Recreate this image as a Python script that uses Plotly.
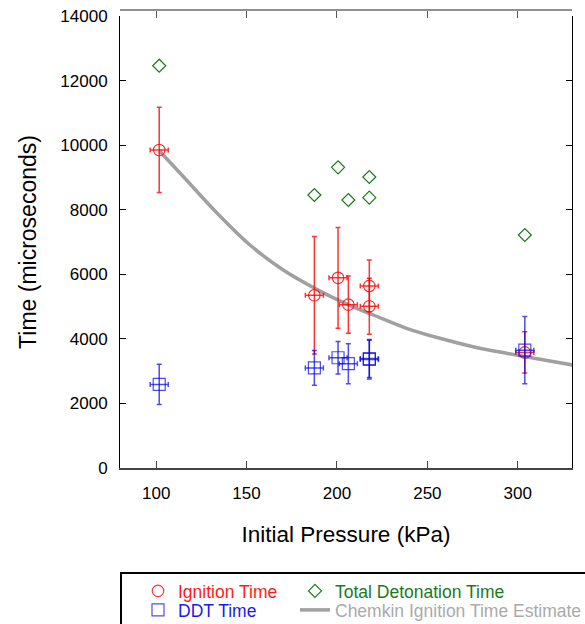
import plotly.graph_objects as go

# ---------------- data ----------------
pressure = [101.7, 187.5, 200.6, 206.3, 217.9, 217.9, 303.9]
pressure_err = [5, 5, 5, 5, 5, 5, 5]

ignition_time = [9850, 5350, 5890, 5060, 5640, 5010, 3580]
ignition_err = [1320, 1820, 1560, 890, 800, 870, 640]

ddt_time = [2590, 3100, 3415, 3230, 3390, 3360, 3650]
ddt_err = [620, 540, 500, 620, 590, 600, 1040]

total_det_time = [12460, 8456, 9313, 8301, 9013, 8373, 7217]

chemkin_p = [101.7, 115.1, 133.5, 151.9, 170.3, 188.8, 207.2, 220.1,
             238.5, 256.9, 275.3, 293.8, 312.2, 330.4]
chemkin_t = [9827, 9022, 7907, 6906, 6132, 5534, 5033, 4739,
             4327, 4017, 3757, 3552, 3367, 3190]

x_ticks = [100, 150, 200, 250, 300]
y_ticks = [0, 2000, 4000, 6000, 8000, 10000, 12000, 14000]

FONT = "Liberation Sans, Arial, sans-serif"
RED = "rgba(255,0,0,0.8)"
BLUE = "rgba(0,0,230,0.7)"
GREEN = "#1a7a1a"
GRAY = "#a0a0a0"
LEG_FONT = 17.5

fig = go.Figure()

fig.add_trace(go.Scatter(
    x=chemkin_p, y=chemkin_t, mode="lines", line_shape="spline",
    line=dict(color=GRAY, width=3.5),
    name='<span style="color:#aaaaaa">Chemkin Ignition Time Estimate</span>',
    legend="legend2", legendrank=2, legendwidth=250))

fig.add_trace(go.Scatter(
    x=pressure, y=ignition_time, mode="markers",
    marker=dict(symbol="circle-open", size=11.5, color=RED, line=dict(width=1.2)),
    error_y=dict(type="data", array=ignition_err, color=RED, thickness=1.5, width=2.5),
    error_x=dict(type="data", array=pressure_err, color=RED, thickness=1.5, width=2.5),
    name='<span style="color:#ff1a1a">Ignition Time</span>',
    legend="legend", legendrank=1, legendwidth=112))

fig.add_trace(go.Scatter(
    x=pressure, y=ddt_time, mode="markers",
    marker=dict(symbol="square-open", size=12, color=BLUE, line=dict(width=1.2)),
    error_y=dict(type="data", array=ddt_err, color=BLUE, thickness=1.5, width=2.5),
    error_x=dict(type="data", array=pressure_err, color=BLUE, thickness=1.5, width=2.5),
    name='<span style="color:#1a1aee">DDT Time</span>',
    legend="legend2", legendrank=1, legendwidth=112))

fig.add_trace(go.Scatter(
    x=pressure, y=total_det_time, mode="markers",
    marker=dict(symbol="diamond-open", size=10, color=GREEN, line=dict(width=1.2)),
    name='<span style="color:#1a7a1a">Total Detonation Time</span>',
    legend="legend", legendrank=2, legendwidth=200))

H_PLOT = 458.0
W_PLOT = 452.0

def px_to_paper_y(py):
    return (468 - py) / H_PLOT

def px_to_paper_x(px):
    return (px - 120) / W_PLOT

fig.update_layout(
    width=585, height=624,
    margin=dict(l=120, r=13, t=10, b=156, autoexpand=False),
    paper_bgcolor="white", plot_bgcolor="white",
    font=dict(family=FONT, size=17, color="black"),
    xaxis=dict(
        range=[80, 330], tickvals=x_ticks, ticks="inside", ticklen=7,
        tickcolor="#444", showline=True, linecolor="#444", linewidth=1.5,
        showgrid=False, zeroline=False, ticklabelstandoff=9,
        tickfont=dict(size=17),
        title=dict(text="Initial Pressure (kPa)", font=dict(size=22.5), standoff=24),
    ),
    xaxis2=dict(
        range=[80, 330], overlaying="x", matches="x", anchor="free", position=1,
        side="top", tickvals=x_ticks, ticks="inside", ticklen=7, tickcolor="#555",
        showline=True, linecolor="#909090", linewidth=2, showticklabels=False,
        showgrid=False, zeroline=False,
    ),
    yaxis=dict(
        range=[0, 14000], domain=[0, 452 / H_PLOT], tickvals=y_ticks,
        tickformat="d",
        ticks="inside", ticklen=6, tickcolor="black", mirror="ticks",
        showline=True, linecolor="black", linewidth=1, showgrid=False,
        zeroline=False, ticklabelstandoff=8, tickfont=dict(size=17),
        title=dict(text="Time (microseconds)", font=dict(size=23), standoff=17),
    ),
    legend=dict(
        orientation="h", x=px_to_paper_x(138), xanchor="left",
        y=px_to_paper_y(591), yanchor="middle",
        font=dict(size=LEG_FONT, family=FONT),
        bgcolor="rgba(0,0,0,0)", borderwidth=0, traceorder="normal",
    ),
    legend2=dict(
        orientation="h", x=px_to_paper_x(138), xanchor="left",
        y=px_to_paper_y(610), yanchor="middle",
        font=dict(size=LEG_FONT, family=FONT),
        bgcolor="rgba(0,0,0,0)", borderwidth=0, traceorder="normal",
    ),
    showlegend=True,
)

# dummy trace to activate the top axis
fig.add_trace(go.Scatter(x=[None], y=[None], xaxis="x2", showlegend=False,
                         hoverinfo="skip"))

# legend frame (extends past the page edges as in the original)
fig.add_shape(type="rect", xref="paper", yref="paper",
              x0=px_to_paper_x(121), x1=1.3,
              y0=px_to_paper_y(573), y1=px_to_paper_y(700),
              line=dict(color="black", width=2), fillcolor="rgba(0,0,0,0)",
              layer="above")

fig.write_html("out.html")
